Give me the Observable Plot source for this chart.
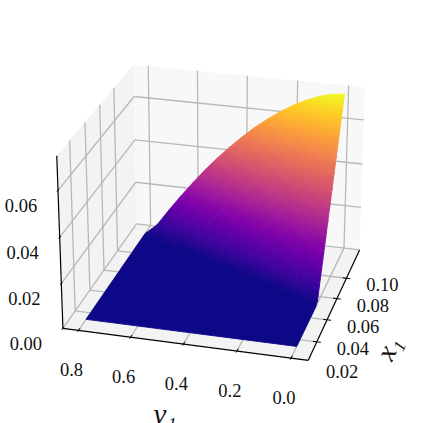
<!DOCTYPE html>
<html><head><meta charset="utf-8">
<script src="https://cdn.jsdelivr.net/npm/d3@7"></script>
<script src="https://cdn.jsdelivr.net/npm/@observablehq/plot@0.6"></script>
<style>html,body{margin:0;padding:0;background:#fff}</style>
</head><body><div id="chart"></div>
<script>
// Surface values
const nu1Values = [0,.05,.1,.15,.2,.25,.3,.35,.4,.45,.5,.55,.6,.65,.7,.75,.8];
const x1Values = [.034,.0376,.0412,.0448,.0484,.052,.0556,.0592,.0628,.0664,.07,.0736,.0772,.0808,.0844,.088,.0916,.0952,.0988,.1024,.106,.1096,.1132,.1168,.1204];
// one row per nu1 value, one entry per x1 value (units of 1e-3)
const zRows = [
[0,0,0,0,0,0,0,0,0,0,0,1.1,6.7,12.3,17.9,23.5,29.2,34.8,40.4,46.0,51.6,57.2,62.8,68.4,74.0],
[0,0,0,0,0,0,0,0,0,0,0,0,2.1,8.0,14.0,19.9,25.8,31.8,37.7,43.6,49.6,55.5,61.4,67.4,73.3],
[0,0,0,0,0,0,0,0,0,0,0,0,0,3.2,9.4,15.6,21.9,28.1,34.3,40.6,46.8,53.1,59.3,65.5,71.8],
[0,0,0,0,0,0,0,0,0,0,0,0,0,0,4.3,10.8,17.3,23.9,30.4,36.9,43.4,49.9,56.5,63.0,69.5],
[0,0,0,0,0,0,0,0,0,0,0,0,0,0,0,5.6,12.4,19.1,25.9,32.7,39.5,46.3,53.1,59.9,66.7],
[0,0,0,0,0,0,0,0,0,0,0,0,0,0,0,0,6.8,13.9,21.0,28.0,35.1,42.1,49.2,56.3,63.3],
[0,0,0,0,0,0,0,0,0,0,0,0,0,0,0,0,0.9,8.2,15.5,22.8,30.2,37.5,44.8,52.1,59.4],
[0,0,0,0,0,0,0,0,0,0,0,0,0,0,0,0,0,2.1,9.7,17.3,24.8,32.4,40.0,47.5,55.1],
[0,0,0,0,0,0,0,0,0,0,0,0,0,0,0,0,0,0,3.4,11.2,19.0,26.8,34.6,42.4,50.2],
[0,0,0,0,0,0,0,0,0,0,0,0,0,0,0,0,0,0,0,4.7,12.8,20.8,28.8,36.9,44.9],
[0,0,0,0,0,0,0,0,0,0,0,0,0,0,0,0,0,0,0,0,6.1,14.4,22.7,31.0,39.3],
[0,0,0,0,0,0,0,0,0,0,0,0,0,0,0,0,0,0,0,0,0,7.7,16.2,24.7,33.2],
[0,0,0,0,0,0,0,0,0,0,0,0,0,0,0,0,0,0,0,0,0,0.4,9.2,17.9,26.6],
[0,0,0,0,0,0,0,0,0,0,0,0,0,0,0,0,0,0,0,0,0,0,1.8,10.7,19.7],
[0,0,0,0,0,0,0,0,0,0,0,0,0,0,0,0,0,0,0,0,0,0,0,3.3,12.4],
[0,0,0,0,0,0,0,0,0,0,0,0,0,0,0,0,0,0,0,0,0,0,0,0,4.8],
[0,0,0,0,0,0,0,0,0,0,0,0,0,0,0,0,0,0,0,0,0,0,0,0,0]
];
const nu1Ticks = [0.8,0.6,0.4,0.2,0.0];
const x1Ticks = [0.02,0.04,0.06,0.08,0.10];
const zTicks = [0.00,0.02,0.04,0.06];
const x1Lim = [.0238,.1292], nu1Lim = [-.063,.86], zLim = [0,.0745];
const zMax = 0.074;

// matplotlib's 3D view: elevation 25, azimuth 195, distance 10, box aspect 4:4:3
const rad = Math.PI/180, el = 25*rad, az = 195*rad, dist = 10;
const box = [1.1905,1.1905,.893];
const w = [Math.cos(el)*Math.cos(az), Math.cos(el)*Math.sin(az), Math.sin(el)];
const nn = Math.hypot(w[0],w[1]);
const u = [-w[1]/nn, w[0]/nn, 0];
const v = [w[1]*u[2]-w[2]*u[1], w[2]*u[0]-w[0]*u[2], w[0]*u[1]-w[1]*u[0]];
const dot = (a,b)=>a[0]*b[0]+a[1]*b[1]+a[2]*b[2];
const frac = (val,[a,b])=>(val-a)/(b-a);
function projT(tx,ty,tz){
  const p=[(tx-.5)*box[0],(ty-.5)*box[1],(tz-.5)*box[2]];
  const k=dist/(dist-dot(p,w));
  return {px:dot(p,u)*k, py:dot(p,v)*k, depth:dot(p,w)};
}
const proj=(x,n,z)=>projT(frac(x,x1Lim),frac(n,nu1Lim),frac(z,zLim));
const seg=(a,b)=>({x1:a.px,y1:a.py,x2:b.px,y2:b.py});

const xOpts={domain:[-1,1],range:[9.3,423.3]}, yOpts={domain:[-1,1],range:[412,-2]};
const colorOpts={type:"linear",scheme:"plasma",domain:[0,zMax]};
const xScale=Plot.scale({x:xOpts}), yScale=Plot.scale({y:yOpts}), colorScale=Plot.scale({color:colorOpts});

const panes=[];
const paneDefs=[
 ["left","#f3f3f3",[[0,1,0],[1,1,0],[1,1,1],[0,1,1]]],
 ["back","#f8f8f8",[[1,0,0],[1,1,0],[1,1,1],[1,0,1]]],
 ["floor","#f3f3f3",[[0,0,0],[1,0,0],[1,1,0],[0,1,0]]]
];
paneDefs.forEach(([id,fill,c])=>[...c,c[0]].forEach(q=>panes.push({id,fill,...projT(...q)})));

const grid=[];
nu1Ticks.forEach(n=>{const t=frac(n,nu1Lim);
  grid.push(seg(projT(0,t,0),projT(1,t,0)),seg(projT(1,t,0),projT(1,t,1)));});
x1Ticks.filter(x=>x>=x1Lim[0]).forEach(x=>{const t=frac(x,x1Lim);
  grid.push(seg(projT(t,0,0),projT(t,1,0)),seg(projT(t,1,0),projT(t,1,1)));});
zTicks.forEach(z=>{const t=frac(z,zLim);
  grid.push(seg(projT(0,1,t),projT(1,1,t)),seg(projT(1,1,t),projT(1,0,t)));});

const axes=[seg(projT(0,1,0),projT(0,0,0)),seg(projT(0,0,0),projT(1,0,0)),seg(projT(0,1,0),projT(0,1,1))];
const ticks=[];
nu1Ticks.forEach(n=>{const t=frac(n,nu1Lim);ticks.push(seg(projT(-.012,t,0),projT(.02,t,0)));});
x1Ticks.filter(x=>x>=x1Lim[0]).forEach(x=>{const t=frac(x,x1Lim);ticks.push(seg(projT(t,-.016,0),projT(t,.016,0)));});
zTicks.forEach(z=>{const t=frac(z,zLim);ticks.push(seg(projT(-.012,1,t),projT(.012,1,t)));});

// flat part of the surface: cells whose four corners are all zero merge into one underlay
const x1Ends=[x1Values[0],x1Values[x1Values.length-1]], nuEnds=[nu1Values[0],nu1Values[nu1Values.length-1]];
const zeroRow=zRows.map(r=>r.findIndex(d=>d>0));
const base=[];
nu1Values.forEach((n,i)=>{const k=zeroRow[i]<0?x1Values.length-1:Math.max(zeroRow[i]-1,0);base.push(proj(x1Values[k],n,0));});
base.push(proj(x1Ends[0],nuEnds[1],0),proj(x1Ends[0],nuEnds[0],0),base[0]);

// surface facets, each shaded through the plasma scale by a gradient that follows its three table values
const cells=[];
for(let i=0;i<nu1Values.length-1;i++)for(let j=0;j<x1Values.length-1;j++){
  for(const q of [[[i,j],[i+1,j],[i+1,j+1]],[[i,j],[i+1,j+1],[i,j+1]]]){
    const zs=q.map(([a,b])=>zRows[a][b]/1000);
    if(Math.max(...zs)===0)continue;
    const pts=q.map(([a,b],m)=>proj(x1Values[b],nu1Values[a],zs[m]));
    cells.push({zs,pts,depth:d3.mean(pts,p=>p.depth)});
  }
}
cells.sort((a,b)=>a.depth-b.depth);
const gradients=[];
const cellPts=[];
base.forEach(p=>cellPts.push({id:-1,paint:colorScale.apply(0),px:p.px,py:p.py}));
cells.forEach((c,id)=>{
  const P=c.pts.map(p=>[xScale.apply(p.px),yScale.apply(p.py)]);
  const [z0,z1,z2]=c.zs;
  const lo=Math.min(z0,z1,z2), hi=Math.max(z0,z1,z2);
  const dx1=P[1][0]-P[0][0], dy1=P[1][1]-P[0][1], dx2=P[2][0]-P[0][0], dy2=P[2][1]-P[0][1];
  const det=dx1*dy2-dx2*dy1;
  let paint=colorScale.apply(lo);
  if(hi>lo && Math.abs(det)>1e-6){
    const a=((z1-z0)*dy2-(z2-z0)*dy1)/det, b=((z2-z0)*dx1-(z1-z0)*dx2)/det;
    const g2=a*a+b*b;
    const end=t=>[P[0][0]+(t-z0)*a/g2,P[0][1]+(t-z0)*b/g2];
    const S=end(lo),E=end(hi);
    gradients.push({id:"g"+id,S,E,stops:d3.range(7).map(k=>colorScale.apply(lo+(hi-lo)*k/6))});
    paint=`url(#g${id})`;
  }
  [...c.pts,c.pts[0]].forEach(p=>cellPts.push({id,paint,px:p.px,py:p.py}));
});

const tickFont={fontFamily:"Liberation Serif",fontSize:18.5,fill:"#111",textAnchor:"middle",lineAnchor:"middle"};
const nuLab=nu1Ticks.map(n=>({...proj(x1Lim[0],n,0),t:n.toFixed(1)}));
const xLab=x1Ticks.map(x=>({...proj(x,nu1Lim[0],0),t:x.toFixed(2)}));
const zLab=zTicks.map(z=>({...proj(x1Lim[0],nu1Lim[1],z),t:z.toFixed(2)}));

const plot=Plot.plot({
  width:423,height:423,margin:0,
  x:{...xOpts,axis:null},
  y:{...yOpts,axis:null},
  style:{background:"#fff",fontFamily:"Liberation Serif"},
  marks:[
    Plot.line(panes,{x:"px",y:"py",z:"id",fill:"fill",stroke:"none"}),
    Plot.link(grid,{x1:"x1",y1:"y1",x2:"x2",y2:"y2",stroke:"#b8b8b8",strokeWidth:1.3}),
    Plot.link(axes,{x1:"x1",y1:"y1",x2:"x2",y2:"y2",stroke:"#000",strokeWidth:1.2}),
    Plot.link(ticks,{x1:"x1",y1:"y1",x2:"x2",y2:"y2",stroke:"#000",strokeWidth:1}),
    Plot.line(cellPts,{x:"px",y:"py",z:"id",fill:{value:"paint",scale:null},stroke:{value:"paint",scale:null},strokeWidth:.9}),
    Plot.text(nuLab,{x:"px",y:"py",text:"t",dx:-7,dy:40,...tickFont}),
    Plot.text(xLab,{x:"px",y:"py",text:"t",dx:36,dy:7,...tickFont}),
    Plot.text(zLab,{x:"px",y:"py",text:"t",dx:-37,dy:16,...tickFont}),
    Plot.text(["ν₁"],{x:[-.25],y:[-1.01],text:d=>d,fontFamily:"Liberation Serif",fontStyle:"italic",fontSize:29,fill:"#111"}),
    Plot.text(["x₁"],{x:[.83],y:[-.69],text:d=>d,rotate:-65,fontFamily:"Liberation Serif",fontStyle:"italic",fontSize:28,fill:"#111"})
  ]
});
const ns="http://www.w3.org/2000/svg";
const defs=document.createElementNS(ns,"defs");
gradients.forEach(g=>{
  const el=document.createElementNS(ns,"linearGradient");
  el.setAttribute("id",g.id);el.setAttribute("gradientUnits","userSpaceOnUse");
  el.setAttribute("x1",g.S[0]);el.setAttribute("y1",g.S[1]);el.setAttribute("x2",g.E[0]);el.setAttribute("y2",g.E[1]);
  g.stops.forEach((c,k)=>{const s=document.createElementNS(ns,"stop");s.setAttribute("offset",k/6);s.setAttribute("stop-color",c);el.append(s);});
  defs.append(el);
});
plot.prepend(defs);
document.getElementById("chart").append(plot);
</script></body></html>
